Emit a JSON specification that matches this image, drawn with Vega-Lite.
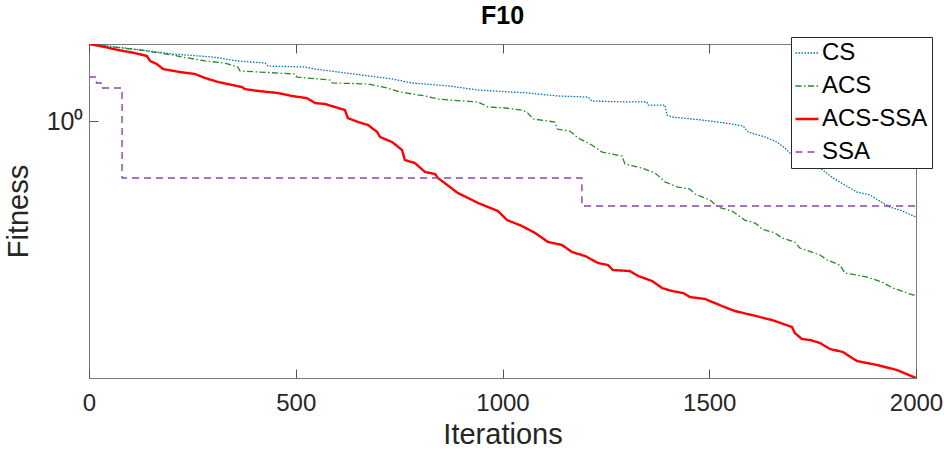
{
  "$schema": "https://vega.github.io/schema/vega-lite/v6.json",
  "autosize": {"type": "none"},
  "padding": {"left": 89, "top": 44, "right": 28, "bottom": 77},
  "width": 827,
  "height": 334,
  "background": "white",
  "title": {"text": "F10", "fontSize": 25, "fontWeight": "bold", "font": "Liberation Sans", "color": "#000000", "offset": 8, "anchor": "middle"},
  "config": {
    "view": {"stroke": "#7a7a7a", "strokeWidth": 1},
    "font": "Liberation Sans",
    "axis": {"grid": false, "domain": false, "labelFont": "Liberation Sans", "titleFont": "Liberation Sans", "labelColor": "#262626", "titleColor": "#262626", "tickColor": "#555555", "labelFontSize": 24, "titleFontSize": 29, "titleFontWeight": "normal"}
  },
  "datasets": {
    "runs": [
      {"series": "CS", "iter": 0, "fit": 1.558},
      {"series": "CS", "iter": 27, "fit": 1.549},
      {"series": "CS", "iter": 106, "fit": 1.514},
      {"series": "CS", "iter": 203, "fit": 1.471},
      {"series": "CS", "iter": 300, "fit": 1.445},
      {"series": "CS", "iter": 360, "fit": 1.413},
      {"series": "CS", "iter": 426, "fit": 1.396},
      {"series": "CS", "iter": 433, "fit": 1.372},
      {"series": "CS", "iter": 522, "fit": 1.365},
      {"series": "CS", "iter": 547, "fit": 1.349},
      {"series": "CS", "iter": 583, "fit": 1.334},
      {"series": "CS", "iter": 660, "fit": 1.303},
      {"series": "CS", "iter": 733, "fit": 1.274},
      {"series": "CS", "iter": 781, "fit": 1.245},
      {"series": "CS", "iter": 873, "fit": 1.223},
      {"series": "CS", "iter": 941, "fit": 1.195},
      {"series": "CS", "iter": 1062, "fit": 1.175},
      {"series": "CS", "iter": 1134, "fit": 1.155},
      {"series": "CS", "iter": 1207, "fit": 1.148},
      {"series": "CS", "iter": 1216, "fit": 1.122},
      {"series": "CS", "iter": 1296, "fit": 1.116},
      {"series": "CS", "iter": 1349, "fit": 1.116},
      {"series": "CS", "iter": 1352, "fit": 1.096},
      {"series": "CS", "iter": 1393, "fit": 1.096},
      {"series": "CS", "iter": 1398, "fit": 1.035},
      {"series": "CS", "iter": 1410, "fit": 1.023},
      {"series": "CS", "iter": 1482, "fit": 1.006},
      {"series": "CS", "iter": 1538, "fit": 0.9886},
      {"series": "CS", "iter": 1582, "fit": 0.9716},
      {"series": "CS", "iter": 1594, "fit": 0.9387},
      {"series": "CS", "iter": 1635, "fit": 0.912},
      {"series": "CS", "iter": 1664, "fit": 0.8861},
      {"series": "CS", "iter": 1683, "fit": 0.8561},
      {"series": "CS", "iter": 1695, "fit": 0.8318},
      {"series": "CS", "iter": 1732, "fit": 0.7989},
      {"series": "CS", "iter": 1775, "fit": 0.7541},
      {"series": "CS", "iter": 1799, "fit": 0.7203},
      {"series": "CS", "iter": 1857, "fit": 0.6645},
      {"series": "CS", "iter": 1889, "fit": 0.6531},
      {"series": "CS", "iter": 1920, "fit": 0.6237},
      {"series": "CS", "iter": 1937, "fit": 0.6095},
      {"series": "CS", "iter": 1961, "fit": 0.5991},
      {"series": "CS", "iter": 2000, "fit": 0.5754},

      {"series": "ACS", "iter": 0, "fit": 1.558},
      {"series": "ACS", "iter": 58, "fit": 1.531},
      {"series": "ACS", "iter": 123, "fit": 1.505},
      {"series": "ACS", "iter": 203, "fit": 1.462},
      {"series": "ACS", "iter": 227, "fit": 1.445},
      {"series": "ACS", "iter": 281, "fit": 1.413},
      {"series": "ACS", "iter": 329, "fit": 1.396},
      {"series": "ACS", "iter": 360, "fit": 1.365},
      {"series": "ACS", "iter": 365, "fit": 1.334},
      {"series": "ACS", "iter": 498, "fit": 1.311},
      {"series": "ACS", "iter": 503, "fit": 1.288},
      {"series": "ACS", "iter": 554, "fit": 1.274},
      {"series": "ACS", "iter": 583, "fit": 1.266},
      {"series": "ACS", "iter": 588, "fit": 1.245},
      {"series": "ACS", "iter": 675, "fit": 1.238},
      {"series": "ACS", "iter": 721, "fit": 1.209},
      {"series": "ACS", "iter": 752, "fit": 1.182},
      {"series": "ACS", "iter": 813, "fit": 1.155},
      {"series": "ACS", "iter": 844, "fit": 1.135},
      {"series": "ACS", "iter": 873, "fit": 1.128},
      {"series": "ACS", "iter": 941, "fit": 1.116},
      {"series": "ACS", "iter": 965, "fit": 1.084},
      {"series": "ACS", "iter": 1006, "fit": 1.078},
      {"series": "ACS", "iter": 1047, "fit": 1.065},
      {"series": "ACS", "iter": 1059, "fit": 1.053},
      {"series": "ACS", "iter": 1074, "fit": 1.012},
      {"series": "ACS", "iter": 1127, "fit": 0.9943},
      {"series": "ACS", "iter": 1132, "fit": 0.955},
      {"series": "ACS", "iter": 1163, "fit": 0.9441},
      {"series": "ACS", "iter": 1183, "fit": 0.9068},
      {"series": "ACS", "iter": 1216, "fit": 0.871},
      {"series": "ACS", "iter": 1241, "fit": 0.8366},
      {"series": "ACS", "iter": 1289, "fit": 0.8175},
      {"series": "ACS", "iter": 1296, "fit": 0.7807},
      {"series": "ACS", "iter": 1337, "fit": 0.7629},
      {"series": "ACS", "iter": 1369, "fit": 0.7413},
      {"series": "ACS", "iter": 1393, "fit": 0.7039},
      {"series": "ACS", "iter": 1424, "fit": 0.6839},
      {"series": "ACS", "iter": 1453, "fit": 0.6761},
      {"series": "ACS", "iter": 1466, "fit": 0.6569},
      {"series": "ACS", "iter": 1502, "fit": 0.6346},
      {"series": "ACS", "iter": 1521, "fit": 0.6095},
      {"series": "ACS", "iter": 1555, "fit": 0.5957},
      {"series": "ACS", "iter": 1586, "fit": 0.5655},
      {"series": "ACS", "iter": 1611, "fit": 0.5559},
      {"series": "ACS", "iter": 1628, "fit": 0.537},
      {"series": "ACS", "iter": 1659, "fit": 0.5248},
      {"series": "ACS", "iter": 1676, "fit": 0.51},
      {"series": "ACS", "iter": 1707, "fit": 0.4984},
      {"series": "ACS", "iter": 1719, "fit": 0.4814},
      {"series": "ACS", "iter": 1768, "fit": 0.4624},
      {"series": "ACS", "iter": 1785, "fit": 0.4492},
      {"series": "ACS", "iter": 1816, "fit": 0.4365},
      {"series": "ACS", "iter": 1828, "fit": 0.4169},
      {"series": "ACS", "iter": 1882, "fit": 0.4074},
      {"series": "ACS", "iter": 1918, "fit": 0.3958},
      {"series": "ACS", "iter": 1944, "fit": 0.3824},
      {"series": "ACS", "iter": 2000, "fit": 0.3652},

      {"series": "ACS-SSA", "iter": 0, "fit": 1.558},
      {"series": "ACS-SSA", "iter": 39, "fit": 1.531},
      {"series": "ACS-SSA", "iter": 70, "fit": 1.505},
      {"series": "ACS-SSA", "iter": 111, "fit": 1.479},
      {"series": "ACS-SSA", "iter": 140, "fit": 1.454},
      {"series": "ACS-SSA", "iter": 148, "fit": 1.413},
      {"series": "ACS-SSA", "iter": 164, "fit": 1.388},
      {"series": "ACS-SSA", "iter": 179, "fit": 1.349},
      {"series": "ACS-SSA", "iter": 220, "fit": 1.326},
      {"series": "ACS-SSA", "iter": 256, "fit": 1.311},
      {"series": "ACS-SSA", "iter": 281, "fit": 1.281},
      {"series": "ACS-SSA", "iter": 312, "fit": 1.252},
      {"series": "ACS-SSA", "iter": 370, "fit": 1.216},
      {"series": "ACS-SSA", "iter": 377, "fit": 1.202},
      {"series": "ACS-SSA", "iter": 409, "fit": 1.189},
      {"series": "ACS-SSA", "iter": 457, "fit": 1.175},
      {"series": "ACS-SSA", "iter": 491, "fit": 1.155},
      {"series": "ACS-SSA", "iter": 527, "fit": 1.141},
      {"series": "ACS-SSA", "iter": 547, "fit": 1.109},
      {"series": "ACS-SSA", "iter": 571, "fit": 1.103},
      {"series": "ACS-SSA", "iter": 595, "fit": 1.084},
      {"series": "ACS-SSA", "iter": 619, "fit": 1.065},
      {"series": "ACS-SSA", "iter": 626, "fit": 1.017},
      {"series": "ACS-SSA", "iter": 651, "fit": 0.9943},
      {"series": "ACS-SSA", "iter": 675, "fit": 0.9772},
      {"series": "ACS-SSA", "iter": 697, "fit": 0.9387},
      {"series": "ACS-SSA", "iter": 704, "fit": 0.912},
      {"series": "ACS-SSA", "iter": 733, "fit": 0.8861},
      {"series": "ACS-SSA", "iter": 757, "fit": 0.8463},
      {"series": "ACS-SSA", "iter": 764, "fit": 0.7989},
      {"series": "ACS-SSA", "iter": 788, "fit": 0.7852},
      {"series": "ACS-SSA", "iter": 813, "fit": 0.7455},
      {"series": "ACS-SSA", "iter": 837, "fit": 0.737},
      {"series": "ACS-SSA", "iter": 844, "fit": 0.7203},
      {"series": "ACS-SSA", "iter": 873, "fit": 0.6839},
      {"series": "ACS-SSA", "iter": 892, "fit": 0.6607},
      {"series": "ACS-SSA", "iter": 917, "fit": 0.6419},
      {"series": "ACS-SSA", "iter": 941, "fit": 0.6237},
      {"series": "ACS-SSA", "iter": 989, "fit": 0.5957},
      {"series": "ACS-SSA", "iter": 1011, "fit": 0.5655},
      {"series": "ACS-SSA", "iter": 1047, "fit": 0.5464},
      {"series": "ACS-SSA", "iter": 1079, "fit": 0.5248},
      {"series": "ACS-SSA", "iter": 1110, "fit": 0.4984},
      {"series": "ACS-SSA", "iter": 1144, "fit": 0.4898},
      {"series": "ACS-SSA", "iter": 1168, "fit": 0.4705},
      {"series": "ACS-SSA", "iter": 1200, "fit": 0.4597},
      {"series": "ACS-SSA", "iter": 1231, "fit": 0.4416},
      {"series": "ACS-SSA", "iter": 1255, "fit": 0.4365},
      {"series": "ACS-SSA", "iter": 1267, "fit": 0.4241},
      {"series": "ACS-SSA", "iter": 1308, "fit": 0.4217},
      {"series": "ACS-SSA", "iter": 1328, "fit": 0.4098},
      {"series": "ACS-SSA", "iter": 1362, "fit": 0.3981},
      {"series": "ACS-SSA", "iter": 1386, "fit": 0.3824},
      {"series": "ACS-SSA", "iter": 1410, "fit": 0.3758},
      {"series": "ACS-SSA", "iter": 1437, "fit": 0.3715},
      {"series": "ACS-SSA", "iter": 1453, "fit": 0.3631},
      {"series": "ACS-SSA", "iter": 1490, "fit": 0.3589},
      {"series": "ACS-SSA", "iter": 1531, "fit": 0.3447},
      {"series": "ACS-SSA", "iter": 1562, "fit": 0.335},
      {"series": "ACS-SSA", "iter": 1603, "fit": 0.3273},
      {"series": "ACS-SSA", "iter": 1652, "fit": 0.318},
      {"series": "ACS-SSA", "iter": 1700, "fit": 0.3055},
      {"series": "ACS-SSA", "iter": 1707, "fit": 0.2951},
      {"series": "ACS-SSA", "iter": 1724, "fit": 0.2851},
      {"series": "ACS-SSA", "iter": 1744, "fit": 0.2835},
      {"series": "ACS-SSA", "iter": 1768, "fit": 0.2786},
      {"series": "ACS-SSA", "iter": 1792, "fit": 0.2692},
      {"series": "ACS-SSA", "iter": 1823, "fit": 0.2646},
      {"series": "ACS-SSA", "iter": 1857, "fit": 0.2512},
      {"series": "ACS-SSA", "iter": 1906, "fit": 0.2455},
      {"series": "ACS-SSA", "iter": 1954, "fit": 0.2385},
      {"series": "ACS-SSA", "iter": 2000, "fit": 0.2278},

      {"series": "SSA", "iter": 0, "fit": 1.288},
      {"series": "SSA", "iter": 18, "fit": 1.245},
      {"series": "SSA", "iter": 29, "fit": 1.209},
      {"series": "SSA", "iter": 80, "fit": 0.7203},
      {"series": "SSA", "iter": 1192, "fit": 0.6131},
      {"series": "SSA", "iter": 2000, "fit": 0.6131}
    ]
  },
  "data": {"name": "runs"},
  "resolve": {"axis": {"x": "independent", "y": "independent"}},
  "layer": [
    {
      "transform": [{"filter": "datum.series === 'CS' || datum.series === 'ACS'"}],
      "mark": {"type": "line", "interpolate": "linear", "clip": true, "strokeWidth": 1.3},
      "encoding": {
        "x": {"field": "iter", "type": "quantitative", "scale": {"domain": [0, 2000], "nice": false},
              "axis": {"orient": "bottom", "values": [0, 500, 1000, 1500, 2000], "format": "d", "title": "Iterations", "tickSize": -9, "labelPadding": 22, "labelFlush": false, "titlePadding": 5}},
        "y": {"field": "fit", "type": "quantitative", "scale": {"type": "log", "domain": [0.2278, 1.558], "nice": false},
              "axis": {"orient": "left", "values": [1], "labelExpr": "'10⁰'", "title": "Fitness", "tickSize": -9, "labelPadding": 15, "labelFontSize": 25, "titlePadding": 13}},
        "color": {"field": "series", "type": "nominal", "scale": {"domain": ["CS", "ACS", "ACS-SSA", "SSA"], "range": ["#0072BD", "#228B22", "#FF0000", "#8D46A6"]},
                  "legend": {"title": null, "orient": "none", "legendX": 702, "legendY": -7, "padding": 4, "fillColor": "white", "strokeColor": "#262626", "labelFontSize": 24, "labelFont": "Liberation Sans", "labelColor": "#000000", "symbolType": "stroke", "symbolSize": 529, "rowPadding": 9, "labelOffset": 3, "cornerRadius": 0,
                             "encode": {"symbols": {"update": {"strokeWidth": {"signal": "datum.value === 'ACS-SSA' ? 2.4 : 1.4"}}}}}},
        "strokeDash": {"field": "series", "type": "nominal", "scale": {"domain": ["CS", "ACS", "ACS-SSA", "SSA"], "range": [[1.5, 1.5], [6, 2.5, 1.5, 2.5], [1, 0], [7, 5]]}}
      }
    },
    {
      "transform": [{"filter": "datum.series === 'ACS-SSA'"}],
      "mark": {"type": "line", "interpolate": "linear", "clip": true, "strokeWidth": 2.4},
      "encoding": {
        "x": {"field": "iter", "type": "quantitative", "axis": null},
        "y": {"field": "fit", "type": "quantitative", "axis": null},
        "color": {"field": "series", "type": "nominal"},
        "strokeDash": {"field": "series", "type": "nominal"}
      }
    },
    {
      "transform": [{"filter": "datum.series === 'SSA'"}],
      "mark": {"type": "line", "interpolate": "step-after", "clip": true, "strokeWidth": 1.4},
      "encoding": {
        "x": {"field": "iter", "type": "quantitative", "axis": null},
        "y": {"field": "fit", "type": "quantitative", "axis": null},
        "color": {"field": "series", "type": "nominal"},
        "strokeDash": {"field": "series", "type": "nominal"}
      }
    },
    {
      "mark": {"type": "point", "opacity": 0},
      "encoding": {
        "x": {"field": "iter", "type": "quantitative", "axis": {"orient": "top", "values": [0, 500, 1000, 1500, 2000], "labels": false, "title": null, "tickSize": -9}},
        "y": {"field": "fit", "type": "quantitative", "axis": {"orient": "right", "values": [1], "labels": false, "title": null, "tickSize": -9}}
      }
    }
  ]
}
